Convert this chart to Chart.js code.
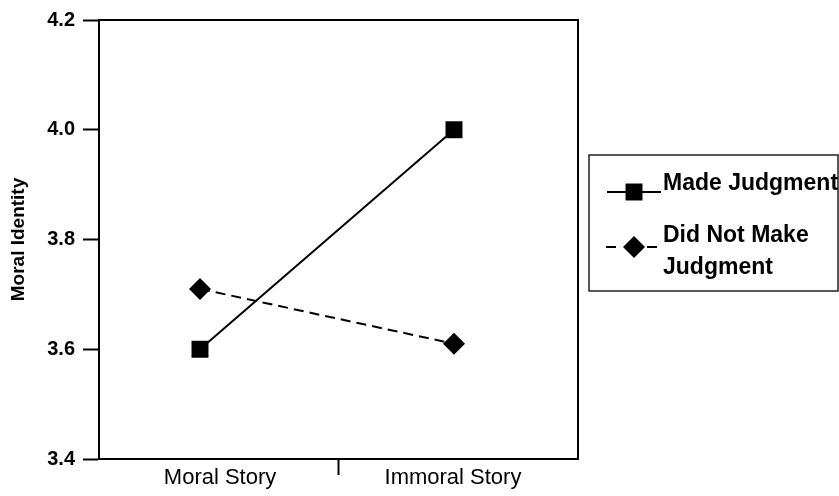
<!DOCTYPE html>
<html>
<head>
<meta charset="utf-8">
<script src="https://cdn.jsdelivr.net/npm/chart.js@4.4.1/dist/chart.umd.min.js"></script>
<style>
  html, body { margin: 0; padding: 0; background: #fff; }
</style>
</head>
<body>
<canvas id="chart" width="839" height="496"></canvas>
<script>
// data
const categories = ['Moral Story', 'Immoral Story'];
const categoryX = [1, 2];
const madeJudgment = [3.60, 4.00];
const didNotMakeJudgment = [3.71, 3.61];
const yTicks = [3.4, 3.6, 3.8, 4.0, 4.2];
const seriesNames = ['Made Judgment', 'Did Not Make\nJudgment'];

const FONT = '"Liberation Sans", Arial, sans-serif';

// x tick spots: label under each category, plus the divider tick between them
const xTickValues = [1.079, 1.547, 1.996];
const xTickLabels = [categories[0], '', categories[1]];

// draws the top/right frame of the plot box
const frame = {
  id: 'frame',
  afterDatasetsDraw(chart) {
    const { ctx, chartArea: a } = chart;
    ctx.save();
    ctx.strokeStyle = '#000';
    ctx.lineWidth = 2;
    ctx.beginPath();
    ctx.moveTo(a.left, a.top);
    ctx.lineTo(a.right, a.top);
    ctx.lineTo(a.right, a.bottom);
    ctx.stroke();
    ctx.restore();
  }
};

function drawMarker(ctx, style, r, x, y) {
  ctx.beginPath();
  if (style === 'rect') {
    const h = r * Math.SQRT1_2;
    ctx.rect(x - h, y - h, 2 * h, 2 * h);
  } else {
    ctx.moveTo(x - r, y);
    ctx.lineTo(x, y - r);
    ctx.lineTo(x + r, y);
    ctx.lineTo(x, y + r);
    ctx.closePath();
  }
  ctx.fill();
}

// boxed legend at the right, built from the datasets
const boxLegend = {
  id: 'boxLegend',
  afterDraw(chart) {
    const ctx = chart.ctx;
    const rows = [{ mid: 192, capTop: 173 }, { mid: 247, capTop: 225 }];
    ctx.save();
    ctx.strokeStyle = '#222';
    ctx.lineWidth = 1.5;
    ctx.strokeRect(589, 155, 249, 136);
    ctx.fillStyle = '#000';
    ctx.strokeStyle = '#000';
    ctx.font = 'bold 23px ' + FONT;
    ctx.textBaseline = 'alphabetic';
    chart.data.datasets.forEach((ds, i) => {
      const row = rows[i];
      ctx.lineWidth = 2;
      ctx.beginPath();
      if (ds.borderDash && ds.borderDash.length) {
        ctx.moveTo(606, row.mid); ctx.lineTo(616, row.mid);
        ctx.moveTo(647, row.mid); ctx.lineTo(657, row.mid);
      } else {
        ctx.moveTo(607, row.mid); ctx.lineTo(661, row.mid);
      }
      ctx.stroke();
      drawMarker(ctx, ds.pointStyle, ds.pointRadius, 634, row.mid);
      ds.label.split('\n').forEach((line, k) => {
        ctx.fillText(line, 663, row.capTop + 17 + k * 32);
      });
    });
    ctx.restore();
  }
};

new Chart(document.getElementById('chart'), {
  type: 'line',
  data: {
    datasets: [
      {
        label: seriesNames[0],
        data: categoryX.map((x, i) => ({ x: x, y: madeJudgment[i] })),
        borderColor: '#000',
        backgroundColor: '#000',
        borderWidth: 2,
        pointStyle: 'rect',
        pointRadius: 12,
        pointBorderWidth: 0,
        tension: 0,
      },
      {
        label: seriesNames[1],
        data: categoryX.map((x, i) => ({ x: x, y: didNotMakeJudgment[i] })),
        borderColor: '#000',
        backgroundColor: '#000',
        borderWidth: 2,
        borderDash: [10, 6],
        pointStyle: 'rectRot',
        pointRadius: 11,
        pointBorderWidth: 0,
        tension: 0,
      },
    ],
  },
  options: {
    responsive: false,
    animation: false,
    layout: { padding: { top: 18, right: 261, bottom: 0, left: 0 } },
    plugins: {
      legend: { display: false },
      tooltip: { enabled: false },
    },
    scales: {
      x: {
        type: 'linear',
        min: 0.6024,
        max: 2.4882,
        afterBuildTicks: (scale) => {
          scale.ticks = xTickValues.map((v) => ({ value: v }));
        },
        afterFit: (scale) => { scale.height = 37; },
        ticks: {
          autoSkip: false,
          maxRotation: 0,
          padding: -10,
          color: '#000',
          font: { family: FONT, size: 22 },
          callback: (v, i) => xTickLabels[i],
        },
        grid: {
          drawOnChartArea: false,
          tickLength: 16,
          tickWidth: 2,
          tickColor: (c) => (c.index === 1 ? '#000' : 'rgba(0,0,0,0)'),
        },
        border: { color: '#000', width: 2 },
      },
      y: {
        min: 3.4,
        max: 4.2,
        afterBuildTicks: (scale) => {
          scale.ticks = yTicks.map((v) => ({ value: v }));
        },
        afterFit: (scale) => { scale.width = 99; },
        ticks: {
          padding: 8,
          color: '#000',
          font: { family: FONT, size: 20, weight: 'bold' },
          callback: (v) => Number(v).toFixed(1),
        },
        grid: {
          drawOnChartArea: false,
          tickLength: 16,
          tickWidth: 2,
          tickColor: '#000',
        },
        border: { color: '#000', width: 2 },
        title: {
          display: true,
          text: 'Moral Identity',
          color: '#000',
          padding: { top: 7, bottom: 0 },
          font: { family: FONT, size: 19, weight: 'bold' },
        },
      },
    },
  },
  plugins: [frame, boxLegend],
});
</script>
</body>
</html>
